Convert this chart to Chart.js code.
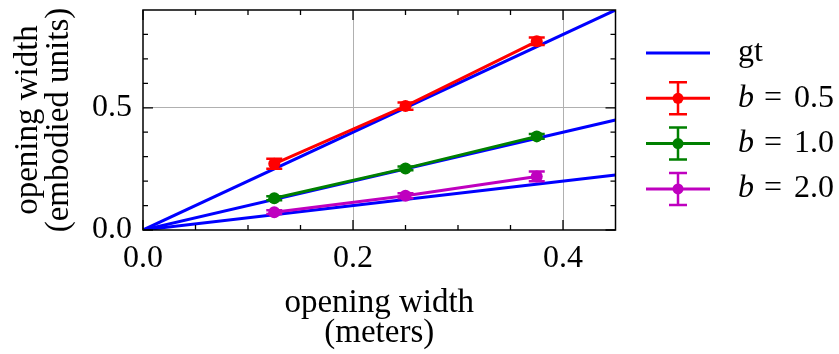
<!DOCTYPE html>
<html>
<head>
<meta charset="utf-8">
<script src="https://cdn.jsdelivr.net/npm/chart.js@4/dist/chart.umd.min.js"></script>
<style>
  html, body { margin: 0; padding: 0; background: #fff; }
  #wrap { width: 839px; height: 354px; }
</style>
</head>
<body>
<div id="wrap"><canvas id="c" width="839" height="354"></canvas></div>
<script>
// ---- data ----
const widths = [0.125, 0.25, 0.375];           // opening width (meters)
const b05 = [0.271, 0.507, 0.772];
const b10 = [0.130, 0.252, 0.383];
const b20 = [0.073, 0.140, 0.219];
const err05 = [0.020, 0.015, 0.015];
const err10 = [0.008, 0.008, 0.010];
const err20 = [0.008, 0.010, 0.020];
const gtX = [0, 0.45];
const gt05 = [0, 0.9];
const gt10 = [0, 0.45];
const gt20 = [0, 0.225];
const xTicks = [0, 0.2, 0.4];
const xTickLabels = ['0.0', '0.2', '0.4'];
const yTicks = [0, 0.5];
const yTickLabels = ['0.0', '0.5'];
const xMinor = [0.05, 0.1, 0.15, 0.25, 0.3, 0.35];
const yMinor = [0.1, 0.2, 0.3, 0.4, 0.6, 0.7, 0.8];
const legendLabels = ['gt', '0.5', '1.0', '2.0'];

const FONT = "'Liberation Serif', 'Times New Roman', serif";
const BLUE = '#0000ff', RED = '#ff0000', GREEN = '#008000', MAG = '#bf00bf';

const pts = (xs, ys) => xs.map((x, i) => ({x: x, y: ys[i]}));

function gtSet(ys) {
  return {label: 'gt', data: pts(gtX, ys), borderColor: BLUE, borderWidth: 3,
          pointRadius: 0, showLine: true, order: 10, tension: 0};
}
function expSet(label, ys, errs, color) {
  return {label: label, data: pts(widths, ys), errors: errs, borderColor: color,
          backgroundColor: color, borderWidth: 3, pointRadius: 6, pointBorderWidth: 0,
          pointBackgroundColor: color, showLine: true, order: 1, tension: 0};
}

const errorBars = {
  id: 'errorBars',
  beforeDatasetDraw(chart, args) {
    const ds = chart.data.datasets[args.index];
    if (!ds.errors) return;
    const y = chart.scales.y, ctx = chart.ctx;
    const meta = chart.getDatasetMeta(args.index);
    ctx.save();
    ctx.strokeStyle = ds.borderColor;
    ctx.lineWidth = 2.5;
    meta.data.forEach((p, i) => {
      const v = ds.data[i].y, e = ds.errors[i];
      const y1 = y.getPixelForValue(v - e), y2 = y.getPixelForValue(v + e);
      ctx.beginPath();
      ctx.moveTo(p.x, y1); ctx.lineTo(p.x, y2);
      ctx.moveTo(p.x - 8, y1); ctx.lineTo(p.x + 8, y1);
      ctx.moveTo(p.x - 8, y2); ctx.lineTo(p.x + 8, y2);
      ctx.stroke();
    });
    ctx.restore();
  }
};

const frame = {
  id: 'frame',
  afterDatasetsDraw(chart) {
    const {ctx, chartArea: a, scales: {x, y}} = chart;
    ctx.save();
    ctx.strokeStyle = '#000';
    ctx.lineWidth = 1.5;
    ctx.strokeRect(a.left, a.top, a.right - a.left, a.bottom - a.top);
    ctx.lineWidth = 1.3;
    ctx.beginPath();
    const tx = (v, len) => {
      const px = x.getPixelForValue(v);
      ctx.moveTo(px, a.bottom); ctx.lineTo(px, a.bottom - len);
      ctx.moveTo(px, a.top); ctx.lineTo(px, a.top + len);
    };
    const ty = (v, len) => {
      const py = y.getPixelForValue(v);
      ctx.moveTo(a.left, py); ctx.lineTo(a.left + len, py);
      ctx.moveTo(a.right, py); ctx.lineTo(a.right - len, py);
    };
    xTicks.forEach(v => tx(v, 10));
    xMinor.forEach(v => tx(v, 5));
    yTicks.forEach(v => ty(v, 10));
    yMinor.forEach(v => ty(v, 5));
    ctx.stroke();
    ctx.restore();
  }
};

const legend = {
  id: 'customLegend',
  afterDraw(chart) {
    const ctx = chart.ctx;
    const colors = [BLUE, RED, GREEN, MAG];
    const x0 = 646, x1 = 710, xc = 678, tx = 738;
    ctx.save();
    legendLabels.forEach((lab, i) => {
      const yy = 53 + i * 45.3;
      ctx.strokeStyle = colors[i];
      ctx.fillStyle = colors[i];
      ctx.lineWidth = 3;
      ctx.beginPath(); ctx.moveTo(x0, yy); ctx.lineTo(x1, yy); ctx.stroke();
      if (i > 0) {
        ctx.lineWidth = 2.5;
        ctx.beginPath();
        ctx.moveTo(xc, yy - 16); ctx.lineTo(xc, yy + 16);
        ctx.moveTo(xc - 9, yy - 16); ctx.lineTo(xc + 9, yy - 16);
        ctx.moveTo(xc - 9, yy + 16); ctx.lineTo(xc + 9, yy + 16);
        ctx.stroke();
        ctx.beginPath(); ctx.arc(xc, yy, 5.5, 0, Math.PI * 2); ctx.fill();
      }
      ctx.fillStyle = '#000';
      ctx.textBaseline = 'middle';
      ctx.textAlign = 'left';
      if (i === 0) {
        ctx.font = '32px ' + FONT;
        ctx.fillText(lab, tx, yy);
      } else {
        ctx.font = 'italic 32px ' + FONT;
        ctx.fillText('b', tx, yy);
        ctx.font = '32px ' + FONT;
        ctx.fillText('=', 764, yy);
        ctx.fillText(lab, 794, yy);
      }
    });
    ctx.restore();
  }
};

new Chart(document.getElementById('c'), {
  type: 'line',
  data: {
    datasets: [
      expSet('b = 0.5', b05, err05, RED),
      expSet('b = 1.0', b10, err10, GREEN),
      expSet('b = 2.0', b20, err20, MAG),
      gtSet(gt05), gtSet(gt10), gtSet(gt20)
    ]
  },
  options: {
    responsive: false,
    animation: false,
    layout: {padding: {left: 0, right: 223.5, top: 10, bottom: 0}},
    plugins: {legend: {display: false}, tooltip: {enabled: false}},
    scales: {
      x: {
        type: 'linear', min: 0, max: 0.45,
        afterBuildTicks: s => { s.ticks = xTicks.map(v => ({value: v})); },
        afterFit: s => { s.height = 124; s.paddingLeft = 0; s.paddingRight = 0; },
        border: {display: false},
        grid: {drawTicks: false, lineWidth: 1,
               color: c => (c.tick && c.tick.value === 0) ? 'rgba(0,0,0,0)' : '#b0b0b0'},
        ticks: {padding: 9, color: '#000', font: {family: FONT, size: 32},
                maxRotation: 0, autoSkip: false,
                callback: (v, i) => xTickLabels[i]},
        title: {display: true, text: ['opening width', '(meters)'], color: '#000',
                font: {family: FONT, size: 33, lineHeight: 0.9}, padding: {top: 0, bottom: 6}}
      },
      y: {
        type: 'linear', min: 0, max: 0.9,
        afterBuildTicks: s => { s.ticks = yTicks.map(v => ({value: v})); },
        afterFit: s => { s.width = 143; s.paddingTop = 0; s.paddingBottom = 0; },
        border: {display: false},
        grid: {drawTicks: false, lineWidth: 1,
               color: c => (c.tick && c.tick.value === 0) ? 'rgba(0,0,0,0)' : '#b0b0b0'},
        ticks: {padding: 11, color: '#000', font: {family: FONT, size: 32},
                autoSkip: false, callback: (v, i) => yTickLabels[i]},
        title: {display: true, text: ['opening width', '(embodied units)'], color: '#000',
                font: {family: FONT, size: 33, lineHeight: 0.93}, padding: {top: 13, bottom: 0}}
      }
    }
  },
  plugins: [errorBars, frame, legend]
});
</script>
</body>
</html>
